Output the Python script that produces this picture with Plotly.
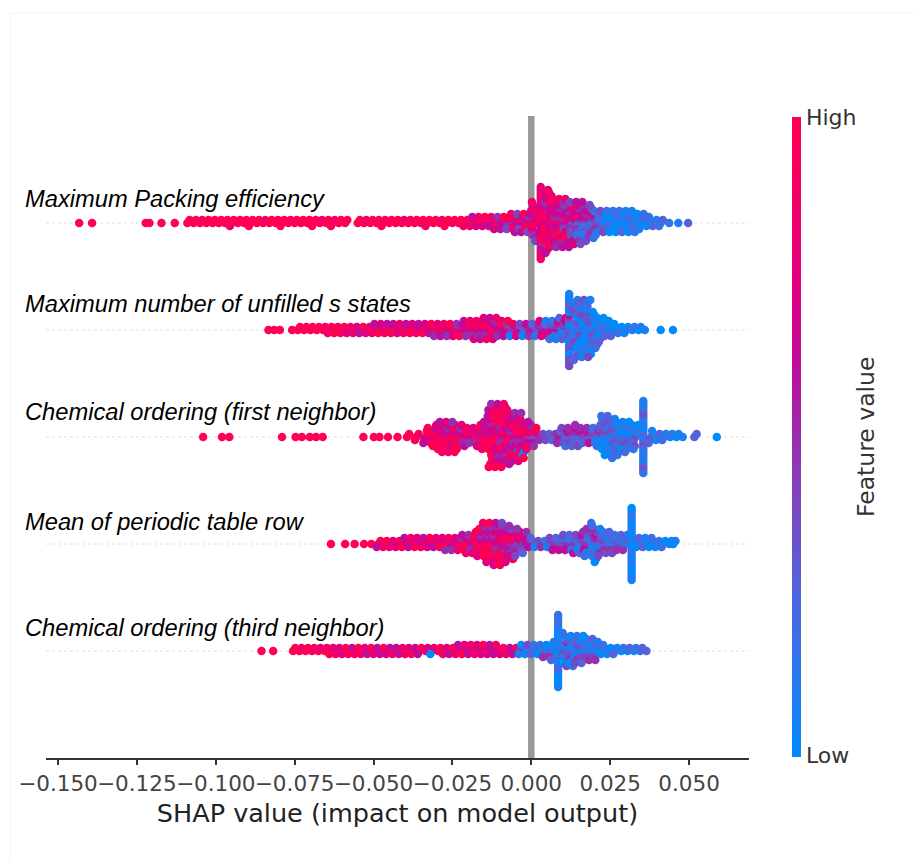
import math
import plotly.graph_objects as go

FEATURE_NAMES = ["Maximum Packing efficiency", "Maximum number of unfilled s states",
                 "Chemical ordering (first neighbor)", "Mean of periodic table row",
                 "Chemical ordering (third neighbor)"]
TICK_VALUES = [-0.15, -0.125, -0.1, -0.075, -0.05, -0.025, 0, 0.025, 0.05]
TICK_LABELS = ["−0.150", "−0.125", "−0.100", "−0.075", "−0.050", "−0.025", "0.000", "0.025", "0.050"]
FEATURE_LEVELS = [0, 0.08, 0.17, 0.27, 0.38, 0.49, 0.61, 0.74, 0.87, 1]

# Each SHAP value is a swarm column; each digit is one sample's feature level in that column (0 low .. 9 high).
ROW1_SHAP = [-0.1433,-0.1392,-0.1222,-0.1210,-0.1172,-0.1130,
 -0.109,-0.107,-0.105,-0.103,-0.101,-0.099,-0.097,-0.095,-0.093,-0.091,-0.089,-0.087,-0.085,-0.083,-0.081,-0.079,-0.077,-0.075,-0.073,-0.071,-0.069,-0.067,-0.065,-0.063,-0.061,-0.059,
 -0.055,-0.053,-0.051,-0.049,-0.047,-0.045,-0.043,-0.041,-0.039,-0.037,-0.035,-0.033,-0.031,-0.029,-0.027,-0.025,-0.023,-0.021,
 -0.019,-0.017,-0.015,-0.013,-0.011,-0.009,-0.007,-0.005,-0.003,-0.001,
 0.001,0.003,0.005,0.007,0.009,0.011,0.013,0.015,0.017,0.019,0.021,0.023,0.025,0.027,0.029,0.031,0.033,0.035,0.037,0.039,0.041,0.0437,0.0466,0.0497]
ROW1_FEATURE = ["9","9","9","9","9","9",
 "99","99","98","99","99","89","99","998","99","99","899","99","98","99","99","999","98","99","89","99","999","98","99","989","99","89",
 "99","98","99","99","989","99","99","98","99","89","99","998","99","98","999","89","99","998",
 "9986","9978","8979","9768","86957","78696","675948","5768946","8576496","76859647",
 "87978678596748","8978796878968797587868978","7868979687867586978768","878567968756786958","67856786957687586","57684675867495686",
 "564758364758647","453657462537564","45362547163546","342536415324","314253142","10213042","01203102","20110302","01021031","12031201",
 "1021302","210312","1302","213","132","2","1","3"]

ROW2_SHAP = [-0.0833,-0.0815,-0.0797,-0.0758,-0.074,-0.072,-0.070,-0.068,-0.066,
 -0.064,-0.062,-0.060,-0.058,-0.056,-0.054,-0.052,-0.050,-0.048,-0.046,-0.044,-0.042,-0.040,-0.038,-0.036,-0.034,-0.032,-0.030,-0.028,-0.026,-0.024,-0.022,-0.020,-0.018,-0.016,-0.014,-0.012,-0.010,-0.008,-0.006,-0.004,-0.002,0.000,0.002,0.004,0.006,0.008,0.010,
 0.012,0.014,0.016,0.018,0.020,0.022,0.024,0.026,0.028,0.030,0.032,0.034,0.036,0.041,0.0449]
ROW2_FEATURE = ["9","9","9","9","99","99","89","99","98",
 "998","989","899","987","978","896","987","9786","8697","7986","8796","9678","7986","8697","9786","6897","7869","86975","67986","78695","96857",
 "587696","786958","6978587","78695867","87695786","97868578","676958","857469","46581","53647","45360","54635","364527","456371","3564712","43652713","35241637",
 "2130423416203142031240314","102314204132041302413","31204132041423102314","20130412031420130241","1320412031402","012301203","102130","20103","102","011","12","01","1","0","0"]

ROW3_SHAP = [-0.104,-0.098,-0.0957,-0.079,-0.0747,-0.0727,-0.0702,-0.0682,-0.0661,-0.0532,-0.0499,-0.0481,-0.0454,-0.0424,
 -0.0394,-0.0364,-0.0334,-0.031,-0.029,-0.027,-0.025,-0.023,-0.021,-0.019,-0.017,-0.015,-0.013,-0.011,-0.009,-0.007,-0.005,-0.003,-0.001,
 0.001,0.003,0.005,0.007,0.009,0.011,0.013,0.015,0.017,0.019,0.021,0.023,0.025,0.027,0.029,0.031,0.033,0.0355,0.038,0.040,0.042,0.044,0.046,0.048,0.0517,0.0588]
ROW3_FEATURE = ["9","9","9","9","9","9","9","9","9","9","9","9","9","9",
 "99","989","897969","98798697","87969787968","97868596978","86978967859","978695879","8679586","796857","87965978","9786869786",
 "9786978695879697868795","8697968579786958697896","7968579689786958796798","8795867968579789686","78695879681796857","6879586976081795","7958679586",
 "5748695","645","534","453","546354","4536452","54354635","4536354","354635","453462","34251423","23140312041302","102314031204132","2031420130412","31203142013","2310423120","324132402",
 "3213204132102314230132412","32413","231","312","12","01","1","33","0"]

ROW4_SHAP = [-0.0635,-0.059,-0.056,-0.053,-0.0507,-0.0485,-0.0465,-0.0445,-0.0425,-0.0405,-0.0385,-0.0365,-0.0345,-0.0325,-0.0305,-0.0285,-0.0265,-0.0245,-0.0225,-0.0205,-0.0185,-0.0165,-0.0145,-0.0125,-0.0105,-0.0085,-0.0065,-0.0045,-0.0025,-0.0005,
 0.0015,0.0035,0.0055,0.0075,0.0095,0.0115,0.0135,0.0155,0.0175,0.0198,0.0218,0.0238,0.0258,0.0278,0.0298,0.0318,0.0338,0.0358,0.0378,0.0398,0.0418,0.0438,0.0450]
ROW4_FEATURE = ["9","9","9","9","9","996","698","978","987","8796","9768","8697","7986","8679","9768","8697","76985","98675","798586","8697958","79685978","9786958679",
 "97869587968578","879695879685797","796857968795869","58796857968574","675968576485","5647586745","46574635","5463",
 "341","425","3514","42536","354264","435263","4253146","35241635","4352631425","34251634251302","3524135241","42315243","2413524","314253","241352",
 "0101201021012010120102101","1203","2031","1302","021","102","10","01"]

ROW5_SHAP = [-0.0855,-0.0818,-0.0755,-0.0735,-0.0715,-0.0695,-0.0675,-0.0655,-0.0635,-0.0615,-0.0595,-0.0575,-0.0555,-0.0535,-0.0515,-0.0495,-0.0475,-0.0455,-0.0435,-0.0415,-0.0395,-0.0375,-0.0355,-0.0335,-0.0315,-0.0295,-0.0275,-0.0255,-0.0235,-0.0215,-0.0195,-0.0175,-0.0155,-0.0135,-0.0115,-0.0095,-0.0075,-0.0055,-0.0035,-0.0015,
 0.0005,0.0025,0.0045,0.0065,0.0085,0.0105,0.0125,0.0145,0.0165,0.0185,0.0205,0.0225,0.0245,0.0265,0.0285,0.0305,0.0325,0.0345,0.0365]
ROW5_FEATURE = ["9","9","99","98","99","89","97","98","879","978","897","969","798","978","896","968","796","867","968","786","678","869","796","87","870","89","978","896","9786","8697","7968","9687","8679","6876","7868","897","968","786","4610","0214",
 "1032","4102","31205","4021513","0102103201202130120301021","314025130142","20314253012","3124035142","1203415230","30214153","2013415","1302","201","113","02","13","12","23","3"]

# Estimated spread of samples inside one column (the swarm's columns are about 0.002 wide).
WITHIN_COLUMN = [0.0000, 0.0007, -0.0005, 0.0003, -0.0008, 0.0006, -0.0002, 0.0009, -0.0006]

ROWS = [(4, ROW1_SHAP, ROW1_FEATURE), (3, ROW2_SHAP, ROW2_FEATURE), (2, ROW3_SHAP, ROW3_FEATURE),
        (1, ROW4_SHAP, ROW4_FEATURE), (0, ROW5_SHAP, ROW5_FEATURE)]

L, R, T, B = 46, 749, 116, 758      # plot box in page pixels
W, H = 917, 861
LAYER_STEP = 3 / 107                # vertical swarm spacing, in row units
SPINE = 25                          # columns this tall are the narrow spikes of identical values

def px(v): return (v - L) / (R - L)
def py(v): return (B - v) / (B - T)

fig = go.Figure()
for row, shap, feat in ROWS:
    xs, ys, cs = [], [], []
    for x, digits in zip(shap, feat):
        for layer, d in enumerate(digits):
            offset = math.ceil(layer / 2) * (1 if layer % 2 else -1)
            spread = 0 if len(digits) < 2 or len(digits) >= SPINE else WITHIN_COLUMN[layer % len(WITHIN_COLUMN)]
            xs.append(x + spread); ys.append(row + offset * LAYER_STEP); cs.append(FEATURE_LEVELS[int(d)])
    fig.add_trace(go.Scatter(x=xs, y=ys, mode="markers", showlegend=False, hoverinfo="skip",
                             marker=dict(size=8.5, color=cs, coloraxis="coloraxis", line_width=0)))

for row in range(5):
    fig.add_shape(type="line", xref="paper", yref="y", x0=0, x1=1, y0=row, y1=row,
                  line=dict(color="#d8d8d8", width=0.8, dash="dot"), layer="below")
fig.add_shape(type="line", xref="x", yref="paper", x0=0, x1=0, y0=0, y1=1,
              line=dict(color="#999999", width=6.5), layer="below")
# faint frame of the source screenshot
fig.add_shape(type="line", xref="paper", yref="paper", x0=px(10), x1=px(917), y0=py(13), y1=py(13),
              line=dict(color="#f4f4f4", width=1))
fig.add_shape(type="line", xref="paper", yref="paper", x0=px(10), x1=px(10), y0=py(13), y1=py(861),
              line=dict(color="#f4f4f4", width=1))

LABEL_Y = [199, 304, 412, 522, 628]
for name, y in zip(FEATURE_NAMES, LABEL_Y):
    fig.add_annotation(text=f"<i>{name}</i>", xref="paper", yref="paper", x=px(22.5), y=py(y),
                       xanchor="left", yanchor="middle", showarrow=False,
                       font=dict(family="Liberation Sans", size=23.7, color="#000000"))
fig.add_annotation(text="Feature value", xref="paper", yref="paper", x=px(866), y=py(437), textangle=-90,
                   xanchor="center", yanchor="middle", showarrow=False,
                   font=dict(family="DejaVu Sans", size=23.5, color="#333333"))

fig.update_layout(
    width=W, height=H, autosize=False, paper_bgcolor="white", plot_bgcolor="white",
    margin=dict(l=L, r=W - R, t=T, b=H - B),
    xaxis=dict(range=[-0.1538, 0.069], tickvals=TICK_VALUES, ticktext=TICK_LABELS, ticks="outside",
               tickangle=0, automargin=False,
               ticklen=5, tickwidth=1.5, tickcolor="#333333", showgrid=False, zeroline=False,
               showline=True, linecolor="#333333", linewidth=1.5,
               tickfont=dict(family="DejaVu Sans", size=21.5, color="#444444"),
               title=dict(text="SHAP value (impact on model output)", standoff=10,
                          font=dict(family="DejaVu Sans", size=25.5, color="#222222"))),
    yaxis=dict(range=[-1, 5], showticklabels=False, ticks="", showgrid=False, zeroline=False, showline=False),
    coloraxis=dict(cmin=0, cmax=1,
                   colorscale=[[0, "#008bfb"], [0.25, "#4e66df"], [0.4, "#7f45c0"], [0.5, "#9a2cad"],
                               [0.62, "#c00a9a"], [0.72, "#de0082"], [1, "#ff0052"]],
                   colorbar=dict(tickvals=[0.003, 1], ticktext=["Low", "High"], ticks="", outlinewidth=0,
                                 thickness=9, thicknessmode="pixels", len=640, lenmode="pixels",
                                 x=px(792), xanchor="left", xref="paper", yref="paper",
                                 y=py(117), yanchor="top", xpad=0, ypad=0,
                                 tickfont=dict(family="DejaVu Sans", size=22, color="#333333"))),
)
fig.write_html("out.html", config={"displayModeBar": False},
               post_script="document.body.style.margin='0';document.body.style.overflow='hidden';")
